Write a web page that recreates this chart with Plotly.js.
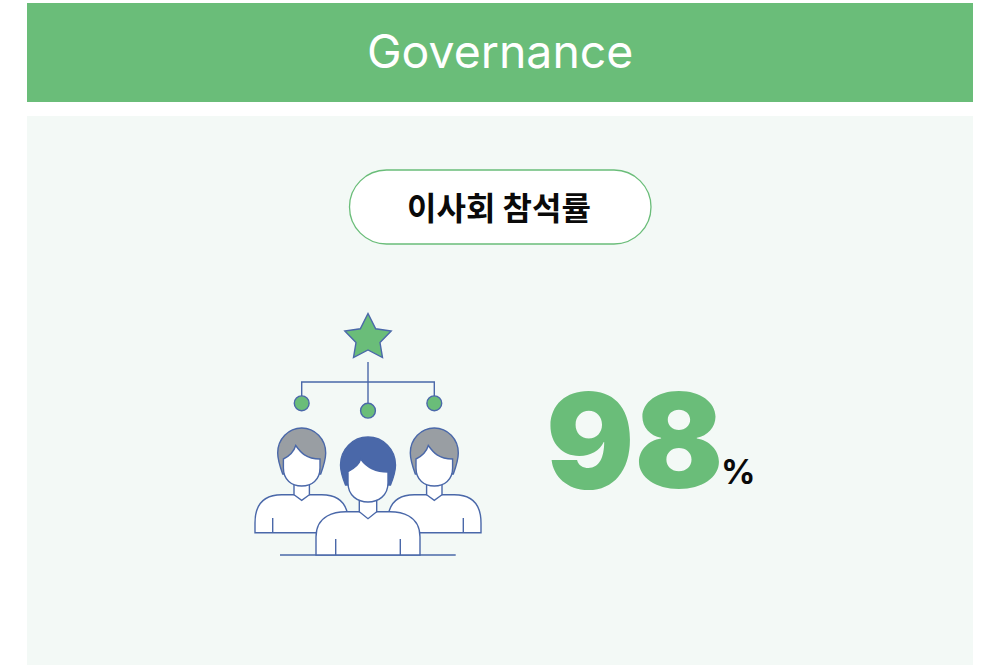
<!DOCTYPE html>
<html><head><meta charset="utf-8">
<script src="https://cdn.plot.ly/plotly-3.0.1.min.js"></script>
<style>html,body{margin:0;padding:0;background:#fff}#c{width:995px;height:665px}</style>
</head><body><div id="c"></div>
<script>
const sectionTitle = "Governance";
const metricLabel = "이사회 참석률";
const metricValue = 98;
const metricUnit = "%";

const GREEN = "#6ABD79", PANEL = "#F3F9F6", BLUE = "#4A68A9", GRAY = "#999EA3";

const K = 0.5523;
function ell(cx, cy, rx, ry) {
  const a = K * rx, b = K * ry;
  return `M${cx - rx},${cy} C${cx - rx},${cy - b} ${cx - a},${cy - ry} ${cx},${cy - ry} ` +
    `C${cx + a},${cy - ry} ${cx + rx},${cy - b} ${cx + rx},${cy} ` +
    `C${cx + rx},${cy + b} ${cx + a},${cy + ry} ${cx},${cy + ry} ` +
    `C${cx - a},${cy + ry} ${cx - rx},${cy + b} ${cx - rx},${cy} Z`;
}
function pill(x0, y0, x1, y1) {
  const r = (y1 - y0) / 2, c = r * (1 - K);
  return `M${x0 + r},${y0} L${x1 - r},${y0} C${x1 - c},${y0} ${x1},${y0 + c} ${x1},${y0 + r} ` +
    `C${x1},${y1 - c} ${x1 - c},${y1} ${x1 - r},${y1} L${x0 + r},${y1} ` +
    `C${x0 + c},${y1} ${x0},${y1 - c} ${x0},${y0 + r} C${x0},${y0 + c} ${x0 + c},${y0} ${x0 + r},${y0} Z`;
}
const shapes = [];
function add(path, fill, color, width) {
  shapes.push({ type: "path", xref: "x", yref: "y", path, fillcolor: fill || "rgba(0,0,0,0)",
    line: { color: color || "rgba(0,0,0,0)", width: width === undefined ? 1 : width } });
}
function rect(x0, y0, x1, y1, fill) {
  shapes.push({ type: "rect", xref: "x", yref: "y", x0, y0, x1, y1, fillcolor: fill, line: { width: 0 } });
}
const LW = 1.4;
function person(cx, g) {
  const X = d => cx + d;
  // body
  add(`M${X(-g.bodyW)},${g.bottom} L${X(-g.bodyW)},${g.shY} ` +
      `C${X(-g.bodyW)},${g.top + 3} ${X(-g.shX - 10)},${g.top} ${X(-g.shX)},${g.top} ` +
      `L${X(g.shX)},${g.top} C${X(g.shX + 10)},${g.top} ${X(g.bodyW)},${g.top + 3} ${X(g.bodyW)},${g.shY} ` +
      `L${X(g.bodyW)},${g.bottom} Z`, "#fff", BLUE, LW);
  // arm lines
  add(`M${X(-g.arm)},${g.armY} L${X(-g.arm)},${g.bottom}`, null, BLUE, LW);
  add(`M${X(g.arm)},${g.armY} L${X(g.arm)},${g.bottom}`, null, BLUE, LW);
  // neck + collar
  add(`M${X(-g.neck)},${g.chin - 4} L${X(-g.neck)},${g.top} L${X(0)},${g.vY} L${X(g.neck)},${g.top} L${X(g.neck)},${g.chin - 4} Z`, "#fff", BLUE, LW);
  // hair
  const hb = g.hairBottom, hs = g.hairSideY, R = g.hairR;
  add(`M${X(-R + 5)},${hb} C${X(-R + 1)},${hs + 10} ${X(-R)},${hs + 5} ${X(-R)},${hs} ` +
      `C${X(-R)},${hs - K * (hs - g.hairTop)} ${X(-K * R)},${g.hairTop} ${X(0)},${g.hairTop} ` +
      `C${X(K * R)},${g.hairTop} ${X(R)},${hs - K * (hs - g.hairTop)} ${X(R)},${hs} ` +
      `C${X(R)},${hs + 5} ${X(R - 1)},${hs + 10} ${X(R - 5)},${hb} Z`, g.hair, BLUE, LW);
  // face
  add(`M${X(-g.faceW)},${g.faceY} L${X(-g.faceW)},${g.jawY} ` +
      `C${X(-g.faceW)},${g.chin - 6} ${X(-10)},${g.chin} ${X(0)},${g.chin} ` +
      `C${X(10)},${g.chin} ${X(g.faceW)},${g.chin - 6} ${X(g.faceW)},${g.jawY} ` +
      `L${X(g.faceW)},${g.faceYR} C${X(g.faceW - 14)},${g.faceYR} ${X(g.peak + 5)},${g.peakY + 7} ${X(g.peak)},${g.peakY} ` +
      `C${X(g.peak - 2)},${g.peakY + 7} ${X(-g.faceW + 4)},${g.faceY - 2} ${X(-g.faceW)},${g.faceY} Z`, "#fff", BLUE, LW);
}

// panels
rect(27, 3, 973, 102, GREEN);
rect(27, 116, 973, 665, PANEL);
add(pill(349.5, 170, 651, 244), "#fff", GREEN, 1.3);

// org lines
add("M368,362 L368,404", null, BLUE, LW);
add("M301.7,396 L301.7,382 L434.3,382 L434.3,396", null, BLUE, LW);
// star
add("M368,313.5 L375.7,328.8 L391.2,331 L380,342.5 L382.5,357.6 L368,350 L353.5,357.6 L356,342.5 L344.8,331 L360.3,328.8 Z", GREEN, BLUE, LW);
// nodes
add(ell(301.7, 403.3, 7.4, 7.4), GREEN, BLUE, LW);
add(ell(368, 410.7, 7.4, 7.4), GREEN, BLUE, LW);
add(ell(434.3, 403.3, 7.4, 7.4), GREEN, BLUE, LW);

const side = { hair: GRAY, hairR: 24, hairTop: 428, hairSideY: 453, hairBottom: 474, faceW: 18.3, faceY: 459, faceYR: 459,
  jawY: 468, chin: 486, peak: -6, peakY: 445.5, neck: 7.7, top: 494.7, vY: 500.3, bodyW: 46.7, shX: 20, shY: 523, bottom: 532.7, arm: 29, armY: 518 };
const mid = { hair: BLUE, hairR: 27.5, hairTop: 437, hairSideY: 465, hairBottom: 485, faceW: 20, faceY: 471.5, faceYR: 472,
  jawY: 483, chin: 502, peak: -7.3, peakY: 459, neck: 8.7, top: 511.7, vY: 518.7, bodyW: 52, shX: 22, shY: 537, bottom: 555, arm: 32.3, armY: 539 };
person(301.7, side);
person(434.3, side);
add("M280,555 L455.7,555", null, BLUE, LW);
person(368, mid);

const annotations = [
  { x: 500, y: 51, text: sectionTitle, font: { family: "Inter, sans-serif", size: 46.4, color: "#fff", weight: 400 } },
  { x: 498.5, y: 206, text: metricLabel, font: { family: "'Noto Sans CJK KR', sans-serif", size: 32, color: "#0a0a0a", weight: 700 } },
  { x: 634.5, y: 440, text: String(metricValue), font: { family: "Inter, sans-serif", size: 131, color: GREEN, weight: 900 } },
  { x: 738, y: 471, text: metricUnit, font: { family: "Inter, sans-serif", size: 34, color: "#0a0a0a", weight: 700 } }
].map(a => Object.assign({ xref: "x", yref: "y", showarrow: false, xanchor: "center", yanchor: "middle" }, a));

const hiddenAxis = { visible: false, fixedrange: true, showgrid: false, zeroline: false };
Plotly.newPlot("c", [{ x: [], y: [], type: "scatter", hoverinfo: "skip" }], {
  width: 995, height: 665, margin: { l: 0, r: 0, t: 0, b: 0 }, showlegend: false,
  paper_bgcolor: "#fff", plot_bgcolor: "#fff",
  xaxis: Object.assign({ range: [0, 995] }, hiddenAxis),
  yaxis: Object.assign({ range: [665, 0] }, hiddenAxis),
  shapes, annotations
}, { displayModeBar: false, staticPlot: true });
</script></body></html>
